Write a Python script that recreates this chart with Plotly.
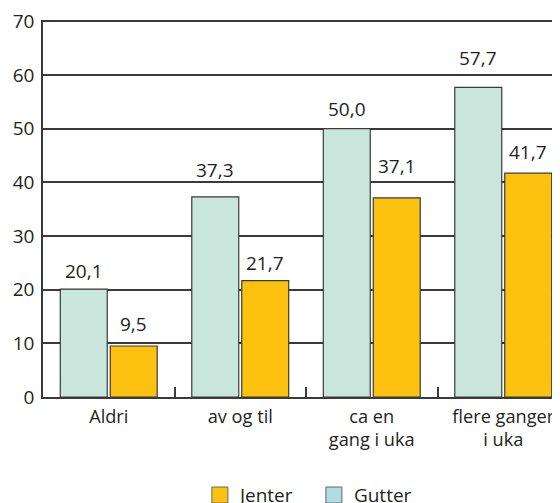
import plotly.graph_objects as go

categories = ["Aldri", "av og til", "ca en<br>gang i uka", "flere ganger<br>i uka"]
gutter = [20.1, 37.3, 50.0, 57.7]
jenter = [9.5, 21.7, 37.1, 41.7]
y_ticks = [0, 10, 20, 30, 40, 50, 60, 70]

FONT = "Open Sans"
FS = 19
FS_X = 18.2
TXT = "#231f20"
LINE = "#3a3a3a"
C_GUTTER = "#c8e6dc"
C_JENTER = "#fdc20f"
C_GUTTER_LEG = "#aedde4"

# page body has an 8px default margin; compensate in figure margins
ML, MT, MB = 35, 12, 114
PLOT_W = 560 - ML
CAT_W = 131.5
BAR_OFFSET = 25          # px from category centre to each bar centre
LABEL_BASE = 3           # px lift of value labels above bar tops
# extra lifts so labels clear gridlines as in the original layout
lift_gutter = [0, 9, 2, 11]
lift_jenter = [4, 0, 14, 3]

fig = go.Figure()
fig.add_trace(go.Bar(
    x=categories, y=gutter, name="Gutter", showlegend=False,
    marker=dict(color=C_GUTTER, line=dict(color=LINE, width=1.2)),
))
fig.add_trace(go.Bar(
    x=categories, y=jenter, name="Jenter", showlegend=False,
    marker=dict(color=C_JENTER, line=dict(color=LINE, width=1.2)),
))
# legend entries
fig.add_trace(go.Scatter(
    x=[None], y=[None], mode="markers", name="Jenter",
    marker=dict(symbol="square", size=16, color=C_JENTER, line=dict(color="#666", width=1)),
))
fig.add_trace(go.Scatter(
    x=[None], y=[None], mode="markers", name="Gutter",
    marker=dict(symbol="square", size=16, color=C_GUTTER_LEG, line=dict(color="#666", width=1)),
))

def fmt(v):
    return f"{v:.1f}".replace(".", ",")

for cat, v, lift in zip(categories, gutter, lift_gutter):
    fig.add_annotation(x=cat, y=v, xref="x", yref="y", text=fmt(v), showarrow=False,
                       xanchor="center", yanchor="bottom", xshift=-BAR_OFFSET,
                       yshift=LABEL_BASE + lift, font=dict(family=FONT, size=FS, color=TXT))
for cat, v, lift in zip(categories, jenter, lift_jenter):
    fig.add_annotation(x=cat, y=v, xref="x", yref="y", text=fmt(v), showarrow=False,
                       xanchor="center", yanchor="bottom", xshift=BAR_OFFSET,
                       yshift=LABEL_BASE + lift, font=dict(family=FONT, size=FS, color=TXT))

fig.update_layout(
    width=560, height=503,
    margin=dict(l=ML, r=0, t=MT, b=MB, autoexpand=False),
    paper_bgcolor="white", plot_bgcolor="white",
    barmode="group", bargap=0.24, bargroupgap=0.06,
    font=dict(family=FONT, size=FS, color=TXT),
    showlegend=True,
    legend=dict(orientation="h", x=0.516, xanchor="center", y=-0.21, yanchor="top",
                font=dict(family=FONT, size=FS, color=TXT),
                itemwidth=30, entrywidth=69, entrywidthmode="pixels",
                tracegroupgap=0, bgcolor="rgba(0,0,0,0)"),
)
fig.update_xaxes(
    type="category", range=[-0.5, -0.5 + PLOT_W / CAT_W], automargin=False,
    showline=True, linecolor=LINE, linewidth=1.5,
    ticks="inside", tickson="boundaries", ticklen=10, tickcolor=LINE, tickwidth=1.5,
    showgrid=False, tickfont=dict(family=FONT, size=FS_X, color=TXT),
    ticklabelstandoff=2, ticklabeloverflow="allow",
)
fig.update_yaxes(
    range=[0, 70.25], tickvals=y_ticks, automargin=False,
    showline=True, linecolor=LINE, linewidth=1.5,
    showgrid=True, gridcolor=LINE, gridwidth=1.5,
    zeroline=False, ticks="", ticklabelstandoff=3, ticklabeloverflow="allow",
    tickfont=dict(family=FONT, size=FS, color=TXT),
)

fig.write_html("out.html")
